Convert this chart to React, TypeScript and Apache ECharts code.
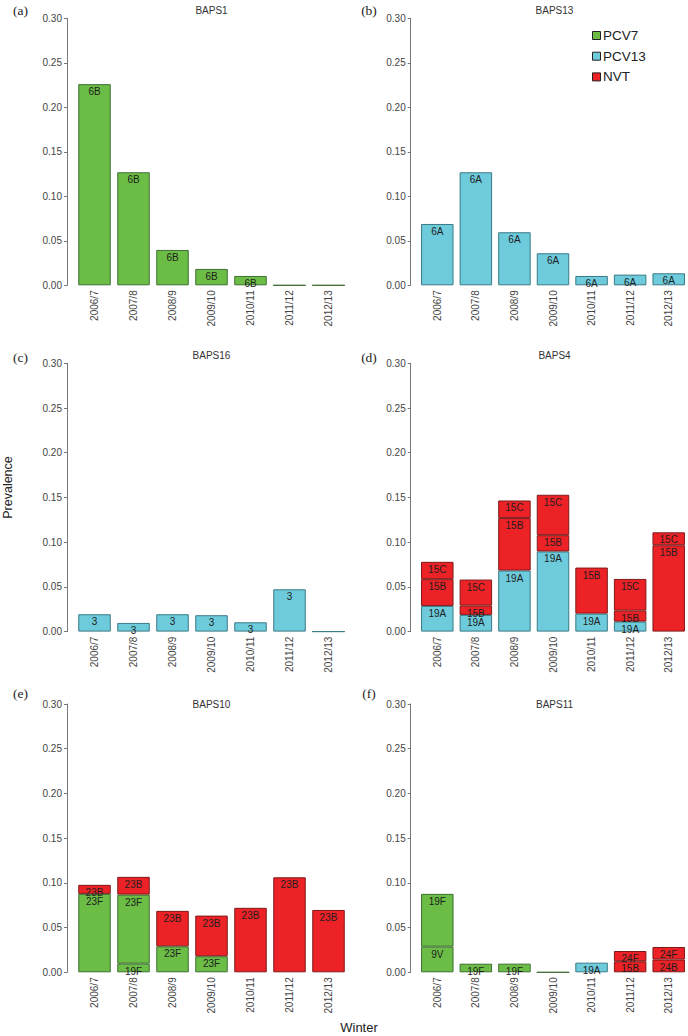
import React, { useEffect, useRef } from "react";
import * as echarts from "echarts";

// ---------- data ----------
const winters = ["2006/7", "2007/8", "2008/9", "2009/10", "2010/11", "2011/12", "2012/13"];
const yTicks = [0, 0.05, 0.1, 0.15, 0.2, 0.25, 0.3];

// (a) BAPS1
const baps1_6B = [0.226, 0.127, 0.0397, 0.0184, 0.0105, 0, 0];
// (b) BAPS13
const baps13_6A = [0.0689, 0.127, 0.0596, 0.036, 0.0105, 0.012, 0.0135];
// (c) BAPS16
const baps16_3 = [0.0194, 0.0097, 0.0194, 0.0183, 0.0104, 0.0473, 0];
// (d) BAPS4
const baps4_19A = [0.0287, 0.0187, 0.0683, 0.0896, 0.0201, 0.0112, null];
const baps4_15B = [0.0299, 0.0104, 0.0586, 0.0182, 0.0515, 0.0123, 0.0965];
const baps4_15C = [0.0194, 0.0291, 0.0197, 0.0452, null, 0.0354, 0.0145];
// (e) BAPS10
const baps10_19F = [null, 0.0097, null, null, null, null, null];
const baps10_23F = [0.0877, 0.0772, 0.029, 0.0179, null, null, null];
const baps10_23B = [0.0101, 0.0198, 0.0397, 0.0455, 0.0721, 0.1062, 0.0697];
// (f) BAPS11
const baps11_9V = [0.0287, null, null, null, null, null, null];
const baps11_19F = [0.059, 0.0096, 0.0097, 0, null, null, null];
const baps11_19A = [null, null, null, null, 0.0108, null, null];
const baps11_15B = [null, null, null, null, null, 0.0123, null];
const baps11_24B = [null, null, null, null, null, null, 0.0142];
const baps11_24F = [null, null, null, null, null, 0.0115, 0.0141];

const groupNames = ["PCV7", "PCV13", "NVT"];
const groupColors = { PCV7: "#6cbd45", PCV13: "#6dcbdc", NVT: "#ec2227" };
const groupBorders = { PCV7: "#3d6e33", PCV13: "#3a7a84", NVT: "#7e1a1a" };

const panels = [
  { tag: "(a)", title: "BAPS1", layers: [{ name: "6B", group: "PCV7", values: baps1_6B }] },
  { tag: "(b)", title: "BAPS13", layers: [{ name: "6A", group: "PCV13", values: baps13_6A }] },
  { tag: "(c)", title: "BAPS16", layers: [{ name: "3", group: "PCV13", values: baps16_3 }] },
  {
    tag: "(d)",
    title: "BAPS4",
    layers: [
      { name: "19A", group: "PCV13", values: baps4_19A },
      { name: "15B", group: "NVT", values: baps4_15B },
      { name: "15C", group: "NVT", values: baps4_15C },
    ],
  },
  {
    tag: "(e)",
    title: "BAPS10",
    layers: [
      { name: "19F", group: "PCV7", values: baps10_19F },
      { name: "23F", group: "PCV7", values: baps10_23F },
      { name: "23B", group: "NVT", values: baps10_23B },
    ],
  },
  {
    tag: "(f)",
    title: "BAPS11",
    layers: [
      { name: "9V", group: "PCV7", values: baps11_9V },
      { name: "19F", group: "PCV7", values: baps11_19F },
      { name: "19A", group: "PCV13", values: baps11_19A },
      { name: "15B", group: "NVT", values: baps11_15B },
      { name: "24B", group: "NVT", values: baps11_24B },
      { name: "24F", group: "NVT", values: baps11_24F },
    ],
  },
];

// ---------- layout ----------
const SANS = "'Liberation Sans', Arial, Helvetica, sans-serif";
const SERIF = "'Liberation Serif', 'Times New Roman', serif";
const colLeft = [75, 418];
const axisOffset = [8, 7.3];
const gridWidth = 273;
const rowTop = [18.3, 363.3, 704];
const rowHeight = [267, 268.3, 268.3];
const titleY = [10.7, 355.7, 704.3];
const tagX = [20.5, 369];
const tagY = [10, 357, 693];

export default function App() {
  const ref = useRef<HTMLDivElement>(null);

  useEffect(() => {
    document.body.style.margin = "0";
    if (!ref.current) return;
    const chart = echarts.init(ref.current, null, { renderer: "svg" });

    const grids: any[] = [];
    const xAxes: any[] = [];
    const yAxes: any[] = [];
    const series: any[] = [];
    const graphic: any[] = [];

    panels.forEach((p, i) => {
      const col = i % 2;
      const row = Math.floor(i / 2);
      grids.push({ left: colLeft[col], top: rowTop[row], width: gridWidth, height: rowHeight[row] });
      xAxes.push({
        type: "category",
        gridIndex: i,
        data: winters,
        axisLine: { show: false },
        axisTick: { show: false },
        axisLabel: { rotate: 90, margin: 5, fontSize: 10, color: "#444", fontFamily: SANS, interval: 0 },
      });
      yAxes.push({
        type: "value",
        gridIndex: i,
        min: yTicks[0],
        max: yTicks[yTicks.length - 1],
        interval: yTicks[1] - yTicks[0],
        offset: axisOffset[col],
        axisLine: { show: true, lineStyle: { color: "#777", width: 1 } },
        axisTick: { show: true, length: 3, lineStyle: { color: "#777" } },
        splitLine: { show: false },
        axisLabel: {
          margin: 5,
          fontSize: 10,
          color: "#444",
          fontFamily: SANS,
          formatter: (v: number) => v.toFixed(2),
        },
      });
      p.layers.forEach((l) => {
        series.push({
          type: "bar",
          name: l.name,
          xAxisIndex: i,
          yAxisIndex: i,
          stack: "panel" + i,
          barWidth: 32.5,
          data: l.values.map((v) => (v === null ? "-" : v)),
          itemStyle: {
            color: (groupColors as any)[l.group],
            borderColor: (groupBorders as any)[l.group],
            borderWidth: 1,
          },
          label: {
            show: true,
            position: "insideTop",
            distance: 2.5,
            fontSize: 10,
            fontFamily: SANS,
            color: "#1e1e1e",
            formatter: (prm: any) => (prm.value > 0 ? l.name : ""),
          },
        });
      });
      graphic.push({
        type: "text",
        left: undefined,
        x: colLeft[col] + gridWidth / 2,
        y: titleY[row],
        style: {
          text: p.title,
          font: `10px ${SANS}`,
          fill: "#333",
          textAlign: "center",
          textVerticalAlign: "middle",
        },
      });
      graphic.push({
        type: "text",
        x: tagX[col],
        y: tagY[row],
        style: {
          text: p.tag,
          font: `13.5px ${SERIF}`,
          fill: "#222",
          textAlign: "center",
          textVerticalAlign: "middle",
        },
      });
    });

    // legend (drawn in panel b)
    groupNames.forEach((g, k) => {
      const cy = 35.5 + k * 20.7;
      graphic.push({
        type: "rect",
        shape: { x: 592.5, y: cy - 4, width: 8, height: 8 },
        style: { fill: (groupColors as any)[g], stroke: "#222", lineWidth: 1 },
      });
      graphic.push({
        type: "text",
        x: 603,
        y: cy,
        style: { text: g, font: `13.5px ${SANS}`, fill: "#222", textAlign: "left", textVerticalAlign: "middle" },
      });
    });

    graphic.push({
      type: "text",
      x: 8,
      y: 487.5,
      rotation: Math.PI / 2,
      style: { text: "Prevalence", font: `12.5px ${SANS}`, fill: "#222", textAlign: "center", textVerticalAlign: "middle" },
    });
    graphic.push({
      type: "text",
      x: 359,
      y: 1027,
      style: { text: "Winter", font: `13px ${SANS}`, fill: "#222", textAlign: "center", textVerticalAlign: "middle" },
    });

    chart.setOption({
      animation: false,
      grid: grids,
      xAxis: xAxes,
      yAxis: yAxes,
      series,
      graphic,
    });

    return () => chart.dispose();
  }, []);

  return <div ref={ref} style={{ width: 688, height: 1036 }} />;
}
